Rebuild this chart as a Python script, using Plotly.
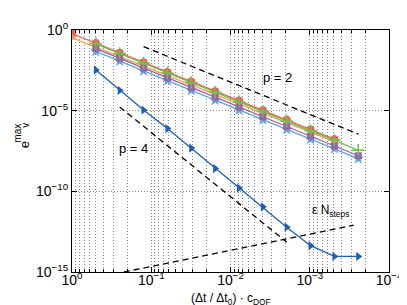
import plotly.graph_objects as go

# step sizes (Δt/Δt0)·c_DOF
dt = [1, 0.5, 0.25, 0.125, 0.0625, 0.03125, 0.015625, 0.0078125, 0.00390625,
      0.001953125, 0.0009765625, 0.00048828125, 0.000244140625]

err_red = [6.0e-1, 1.55e-1, 3.9e-2, 1.0e-2, 2.5e-3, 6.5e-4, 1.6e-4, 4.2e-5,
           1.05e-5, 2.7e-6, 6.8e-7, 1.7e-7]                       # k = 0..11
err_orange = [3.3e-1, 8.7e-2, 2.25e-2, 5.8e-3, 1.5e-3, 3.9e-4, 1.02e-4, 2.6e-5,
              6.9e-6, 1.8e-6, 4.6e-7, 1.2e-7]                     # k = 0..11
err_green = [1.4e-1, 3.5e-2, 8.9e-3, 2.2e-3, 5.6e-4, 1.4e-4, 3.5e-5, 8.9e-6,
             2.2e-6, 5.6e-7, 1.5e-7, 3.5e-8]                      # k = 1..12
err_purple = [7.1e-2, 1.8e-2, 4.4e-3, 1.1e-3, 2.7e-4, 6.8e-5, 1.7e-5, 4.2e-6,
              1.05e-6, 2.6e-7, 6.5e-8, 1.6e-8]                    # k = 1..12
err_star = [4.7e-2, 1.2e-2, 2.9e-3, 7.2e-4, 1.8e-4, 4.5e-5, 1.1e-5, 2.8e-6,
            6.9e-7, 1.7e-7, 4.4e-8, 1.07e-8]                      # k = 1..12
err_p4 = [3.3e-3, 1.8e-4, 1.1e-5, 7.8e-7, 4.8e-8, 2.6e-9, 1.6e-10, 1.1e-11,
          6.0e-13, 4.3e-14, 9.3e-15, 9.3e-15]                     # k = 1..12

ref2_x = [0.125, 0.000244]
ref2_y = [0.093, 3.5e-7]
ref4_x = [0.25, 0.00195]
ref4_y = [1.7e-5, 7.0e-14]
eps_x = [0.222, 0.00028]
eps_y = [1.0e-15, 7.9e-13]

y_tickvals = [1, 1e-5, 1e-10, 1e-15]
y_ticktext = ["10<sup>0</sup>", "10<sup>−5</sup>", "10<sup>−10</sup>", "10<sup>−15</sup>"]
x_tickvals = [1, 1e-1, 1e-2, 1e-3, 1e-4]
x_ticktext = ["10<sup>0</sup>", "10<sup>−1</sup>", "10<sup>−2</sup>", "10<sup>−3</sup>", "10<sup>−4</sup>"]
x_minor = [m * 10.0 ** e for e in range(-4, 0) for m in range(2, 10)]

fig = go.Figure()

dash_style = dict(color="black", width=1.3, dash="6px,4px")
fig.add_trace(go.Scatter(x=ref2_x, y=ref2_y, mode="lines", line=dash_style))
fig.add_trace(go.Scatter(x=ref4_x, y=ref4_y, mode="lines", line=dash_style))
fig.add_trace(go.Scatter(x=eps_x, y=eps_y, mode="lines", line=dash_style))

def series(x, y, color, symbol, size):
    fig.add_trace(go.Scatter(
        x=x, y=y, mode="lines+markers",
        line=dict(color=color, width=1.3),
        marker=dict(symbol=symbol, size=size, color=color, line=dict(width=0, color=color)),
    ))

series(dt[0:12], err_red, "#F0605D", "circle", 8)
series(dt[0:12], err_orange, "#F5A04E", "triangle-up", 8)
series(dt[1:13], err_star, "#5DA5DA", "star", 9)
series(dt[1:13], err_purple, "#9B63AF", "square", 7)
fig.add_trace(go.Scatter(
    x=dt[1:13], y=err_green, mode="lines+markers",
    line=dict(color="#6CC04A", width=1.3),
    marker=dict(symbol="cross-thin", size=9, line=dict(width=1.5, color="#6CC04A")),
))
series(dt[1:13], err_p4, "#1F5FB4", "triangle-right", 8)

font = "Liberation Sans, Arial, sans-serif"
grid_col = "#8a8a8a"
fig.update_layout(
    width=407, height=305,
    margin=dict(l=64, r=19, t=16, b=41),
    paper_bgcolor="white", plot_bgcolor="white",
    showlegend=False,
    font=dict(family=font, size=14, color="black"),
    xaxis=dict(
        type="log", range=[0, -4],
        tickmode="array", tickvals=x_tickvals, ticktext=x_ticktext,
        ticks="inside", ticklen=5, tickcolor="black",
        ticklabelstandoff=-5,
        showline=True, linecolor="black", linewidth=1.2, mirror="ticks",
        showgrid=True, gridcolor=grid_col, griddash="1px,2px", gridwidth=1,
        zeroline=False,
        minor=dict(tickvals=x_minor, ticks="inside", ticklen=3, tickcolor="black",
                   showgrid=True, gridcolor=grid_col, griddash="1px,2px", gridwidth=1),
        tickfont=dict(size=14),
    ),
    yaxis=dict(
        type="log", range=[-15, 0],
        tickmode="array", tickvals=y_tickvals, ticktext=y_ticktext,
        ticks="inside", ticklen=5, tickcolor="black",
        showline=True, linecolor="black", linewidth=1.2, mirror="ticks",
        showgrid=True, gridcolor=grid_col, griddash="1px,2px", gridwidth=1,
        zeroline=False,
        tickfont=dict(size=14),
    ),
)

def px2paper(px, py):
    return (px - 64) / 324.0, 1 - (py - 16) / 248.0

annots = []
def add_text(text, px, py, size=12, angle=0):
    x, y = px2paper(px, py)
    annots.append(dict(text=text, x=x, y=y, xref="paper", yref="paper",
                       showarrow=False, font=dict(size=size, family=font, color="black"),
                       textangle=angle, xanchor="center", yanchor="middle"))

add_text("p = 2", 274, 65, 13)
add_text("p = 4", 127, 137, 13)
add_text("ε N<sub>steps</sub>", 328, 201, 12)
add_text("(Δt / Δt<sub>0</sub>) · c<sub>DOF</sub>", 226, 292, 12)
add_text("e", 15, 134, 13, -90)
add_text("max", 8, 122, 10, -90)
add_text("v", 17, 114, 10, -90)
fig.update_layout(annotations=annots)

fig.write_html("out.html")
